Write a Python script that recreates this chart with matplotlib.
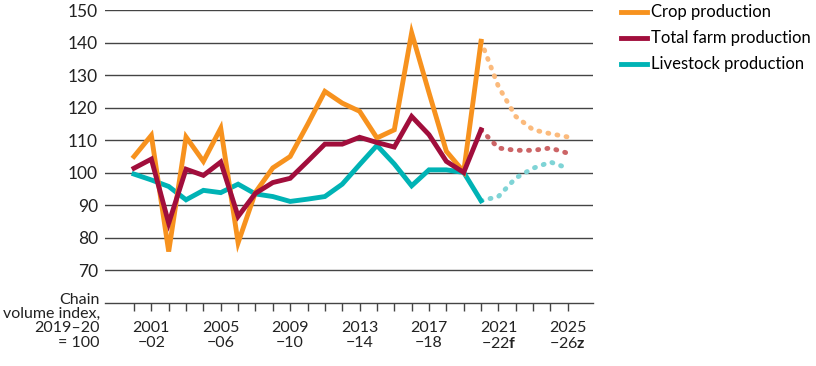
import numpy as np
import matplotlib.pyplot as plt

plt.rcParams['font.family'] = ['Lato', 'DejaVu Sans']
plt.rcParams['mathtext.fontset'] = 'custom'
plt.rcParams['mathtext.rm'] = 'Lato'
plt.rcParams['mathtext.bf'] = 'Lato:bold'

# years (start of financial year)
years = np.arange(2000, 2021)
fyears = np.arange(2020, 2026)

crop = [105.0, 111.5, 75.8, 111.0, 103.5, 113.7, 78.5, 94.0, 101.5, 105.0,
        114.8, 125.0, 121.4, 118.9, 110.7, 113.2, 143.0, 124.6, 106.6, 100.3, 140.4]
total = [101.4, 104.2, 84.5, 101.1, 99.2, 103.3, 86.6, 93.7, 97.0, 98.3,
         103.5, 108.8, 108.8, 110.9, 109.3, 107.9, 117.3, 111.7, 103.5, 100.1, 113.2]
livestock = [99.6, 97.8, 95.8, 91.7, 94.6, 93.9, 96.5, 93.5, 92.7, 91.2,
             91.9, 92.7, 96.5, 102.5, 108.4, 102.7, 96.0, 100.9, 100.9, 100.1, 91.4]

crop_f = [140.4, 126.5, 117.3, 113.2, 112.0, 111.0]
total_f = [113.2, 107.6, 106.9, 106.9, 107.6, 106.0]
livestock_f = [91.4, 92.7, 98.4, 101.4, 103.3, 101.4]

tick_years = [2001, 2005, 2009, 2013, 2017, 2021, 2025]
tick_labels = ['2001\n\u221202', '2005\n\u221206', '2009\n\u221210', '2013\n\u221214',
               '2017\n\u221218', '2021\n\u221222$\\mathbf{f}$', '2025\n\u221226$\\mathbf{z}$']

c_crop, c_total, c_live = '#F7921E', '#A10E3C', '#00B3B5'
c_crop_l, c_total_l, c_live_l = '#FBBA7C', '#CC6466', '#7FD4D6'

fig = plt.figure(figsize=(8.16, 3.66), dpi=100)
ax = fig.add_axes([105/816, 1-303/366, (593-105)/816, 293/366])

for v in range(70, 151, 10):
    ax.axhline(v, color='#444444', lw=1.0, zorder=0)

dots = (0, (0.2, 1.7))
ax.plot(fyears, crop_f, color=c_crop_l, lw=3.5, ls=dots, dash_capstyle='round')
ax.plot(fyears, total_f, color=c_total_l, lw=3.5, ls=dots, dash_capstyle='round')
ax.plot(fyears, livestock_f, color=c_live_l, lw=3.5, ls=dots, dash_capstyle='round')

ax.plot(years, livestock, color=c_live, lw=3.5, solid_joinstyle='miter', label='Livestock production')
ax.plot(years, crop, color=c_crop, lw=3.5, solid_joinstyle='miter', label='Crop production')
ax.plot(years, total, color=c_total, lw=3.5, solid_joinstyle='miter', label='Total farm production')

ax.set_xlim(1998.33, 2026.45)
ax.set_ylim(60, 150)
for s in ['top', 'right', 'left']:
    ax.spines[s].set_visible(False)
ax.spines['bottom'].set_color('#444444')
ax.spines['bottom'].set_linewidth(1.0)

ax.set_yticks(range(70, 151, 10))
ax.tick_params(axis='y', length=0, labelsize=12.5, pad=5, colors='#222222')
ax.set_xticks(np.arange(2000, 2026), minor=True)
ax.set_xticks(tick_years)
ax.set_xticklabels(tick_labels, fontsize=11.5, linespacing=1.1)
ax.tick_params(axis='x', which='both', length=6, width=1, color='#444444', pad=7, labelcolor='#222222')

fig.text(100/816, 1-293/366, 'Chain\nvolume index,\n2019\u201320\n= 100', ha='right', va='top',
         fontsize=11.5, linespacing=1.02, color='#222222')

h, l = ax.get_legend_handles_labels()
order = [1, 2, 0]
ax.legend([h[i] for i in order], [l[i] for i in order], loc='upper left',
          bbox_to_anchor=(614/816, 1.006), bbox_transform=fig.transFigure,
          frameon=False, fontsize=12, handlelength=1.6, handletextpad=0.2,
          labelspacing=0.6, borderaxespad=0.0)

fig.savefig('out.png', dpi=100)
